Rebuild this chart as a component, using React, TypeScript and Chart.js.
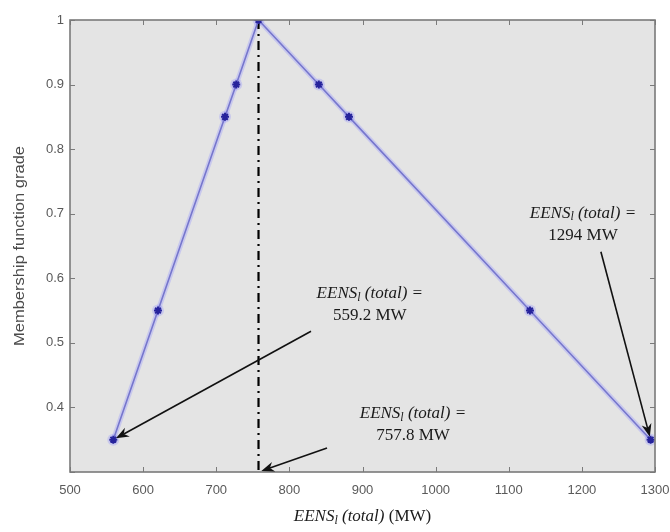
import React, { useEffect, useRef } from "react";
import { Chart, registerables } from "chart.js";

Chart.register(...registerables);

// Membership function of EENS_l(total): rising and falling branches
const eensValues = [559.2, 620.3, 712, 727.3, 757.8, 840.3, 881.5, 1129, 1294];
const gradeValues = [0.35, 0.55, 0.85, 0.9, 1, 0.9, 0.85, 0.55, 0.35];

// Peak of the membership function (dash-dot marker line)
const peakEens = 757.8;

// Axis ranges and tick steps
const xRange = [500, 1300];
const xStep = 100;
const yRange = [0.3, 1];
const yStep = 0.1;

// Callouts: label, label anchor (data units), arrow tail and head (data units)
const calloutLabels = ["559.2 MW", "757.8 MW", "1294 MW"];
const calloutTextAt = [
  [910, 0.576],
  [969, 0.39],
  [1201.5, 0.701],
];
const calloutTail = [
  [829.6, 0.518],
  [851.5, 0.337],
  [1226, 0.641],
];
const calloutHead = [
  [559.2, 0.35],
  [757.8, 0.3],
  [1294, 0.35],
];

const SERIF = "'Liberation Serif', 'Times New Roman', serif";
const SANS = "'Liberation Sans', Arial, sans-serif";

type Part = { text: string; font: string; dy: number };

function eensParts(size: number, suffix: string, tail?: string): Part[] {
  const parts: Part[] = [
    { text: "EENS", font: `italic ${size}px ${SERIF}`, dy: 0 },
    { text: "l", font: `italic ${Math.round(size * 0.72)}px ${SERIF}`, dy: size * 0.22 },
    { text: suffix, font: `italic ${size}px ${SERIF}`, dy: 0 },
  ];
  if (tail) parts.push({ text: tail, font: `${size}px ${SERIF}`, dy: 0 });
  return parts;
}

function drawParts(ctx: CanvasRenderingContext2D, parts: Part[], cx: number, y: number) {
  let total = 0;
  const widths = parts.map((p) => {
    ctx.font = p.font;
    const w = ctx.measureText(p.text).width;
    total += w;
    return w;
  });
  let x = cx - total / 2;
  ctx.textAlign = "left";
  ctx.textBaseline = "middle";
  parts.forEach((p, i) => {
    ctx.font = p.font;
    ctx.fillText(p.text, x, y + p.dy);
    x += widths[i];
  });
}

function drawArrow(ctx: CanvasRenderingContext2D, x0: number, y0: number, x1: number, y1: number) {
  const ang = Math.atan2(y1 - y0, x1 - x0);
  // Pull the tip back slightly from the marked point
  const tx = x1 - Math.cos(ang) * 3;
  const ty = y1 - Math.sin(ang) * 3;
  const len = 13;
  const half = 5;
  const back = 9;
  const bx = tx - Math.cos(ang) * len;
  const by = ty - Math.sin(ang) * len;
  const mx = tx - Math.cos(ang) * back;
  const my = ty - Math.sin(ang) * back;
  const nx = -Math.sin(ang);
  const ny = Math.cos(ang);
  ctx.strokeStyle = "#111";
  ctx.fillStyle = "#111";
  ctx.lineWidth = 1.6;
  ctx.beginPath();
  ctx.moveTo(x0, y0);
  ctx.lineTo(mx, my);
  ctx.stroke();
  ctx.beginPath();
  ctx.moveTo(tx, ty);
  ctx.lineTo(bx + nx * half, by + ny * half);
  ctx.lineTo(mx, my);
  ctx.lineTo(bx - nx * half, by - ny * half);
  ctx.closePath();
  ctx.fill();
}

const framePlugin = {
  id: "matlabFrame",
  beforeDatasetsDraw(chart: any) {
    const { ctx, chartArea: a } = chart;
    ctx.save();
    ctx.fillStyle = "#e4e4e4";
    ctx.fillRect(a.left, a.top, a.right - a.left, a.bottom - a.top);
    ctx.restore();
  },
  afterDatasetsDraw(chart: any) {
    const { ctx, chartArea: a, scales } = chart;
    ctx.save();
    ctx.strokeStyle = "#7a7a7a";
    ctx.lineWidth = 1;
    const tl = 5;
    scales.x.ticks.forEach((t: any) => {
      const px = Math.round(scales.x.getPixelForValue(t.value)) + 0.5;
      ctx.beginPath();
      ctx.moveTo(px, a.bottom);
      ctx.lineTo(px, a.bottom - tl);
      ctx.moveTo(px, a.top);
      ctx.lineTo(px, a.top + tl);
      ctx.stroke();
    });
    scales.y.ticks.forEach((t: any) => {
      const py = Math.round(scales.y.getPixelForValue(t.value)) + 0.5;
      ctx.beginPath();
      ctx.moveTo(a.left, py);
      ctx.lineTo(a.left + tl, py);
      ctx.moveTo(a.right, py);
      ctx.lineTo(a.right - tl, py);
      ctx.stroke();
    });
    ctx.lineWidth = 1.6;
    ctx.strokeRect(a.left, a.top, a.right - a.left, a.bottom - a.top);
    ctx.restore();
  },
  afterDraw(chart: any) {
    const { ctx, chartArea: a, scales } = chart;
    const sx = scales.x;
    const sy = scales.y;
    ctx.save();
    // Callouts
    calloutLabels.forEach((label, i) => {
      const cx = sx.getPixelForValue(calloutTextAt[i][0]);
      const cy = sy.getPixelForValue(calloutTextAt[i][1]);
      ctx.fillStyle = "#1a1a1a";
      drawParts(ctx, eensParts(17, " (total) ="), cx, cy);
      drawParts(ctx, [{ text: label, font: `17px ${SERIF}`, dy: 0 }], cx, cy + 22);
      drawArrow(
        ctx,
        sx.getPixelForValue(calloutTail[i][0]),
        sy.getPixelForValue(calloutTail[i][1]),
        sx.getPixelForValue(calloutHead[i][0]),
        sy.getPixelForValue(calloutHead[i][1])
      );
    });
    // Axis titles
    ctx.fillStyle = "#1a1a1a";
    drawParts(ctx, eensParts(17, " (total)", " (MW)"), (a.left + a.right) / 2, 517);
    const yTitle = "Membership function grade";
    ctx.translate(20, (a.top + a.bottom) / 2);
    ctx.rotate(-Math.PI / 2);
    ctx.font = `14px ${SANS}`;
    const natural = ctx.measureText(yTitle).width;
    ctx.scale(200 / natural, 1);
    ctx.fillStyle = "#4a4a4a";
    ctx.textAlign = "center";
    ctx.textBaseline = "middle";
    ctx.fillText(yTitle, 0, 0);
    ctx.restore();
  },
};

export default function App() {
  const canvasRef = useRef<HTMLCanvasElement | null>(null);

  useEffect(() => {
    if (!canvasRef.current) return;
    const points = eensValues.map((x, i) => ({ x, y: gradeValues[i] }));
    const chart = new Chart(canvasRef.current, {
      type: "line",
      data: {
        datasets: [
          {
            label: "membership",
            data: points,
            order: 0,
            borderColor: "rgb(118,118,205)",
            borderWidth: 1.6,
            pointStyle: "star",
            pointRadius: 4,
            pointBorderColor: "#26239c",
            pointBorderWidth: 2,
            pointBackgroundColor: "#26239c",
            tension: 0,
          },
          {
            label: "peak",
            data: [
              { x: peakEens, y: yRange[1] },
              { x: peakEens, y: yRange[0] },
            ],
            order: 1,
            borderColor: "#000",
            borderWidth: 2.2,
            borderDash: [9, 5, 2, 5],
            pointRadius: 0,
          },
          {
            label: "halo",
            data: points,
            order: 2,
            borderColor: "rgba(150,150,255,0.35)",
            borderWidth: 5,
            pointRadius: 6,
            pointBorderWidth: 0,
            pointBackgroundColor: "rgba(140,140,255,0.3)",
            tension: 0,
          },
        ],
      },
      options: {
        responsive: false,
        maintainAspectRatio: false,
        devicePixelRatio: 1,
        animation: false,
        layout: { padding: { top: 20, right: 15, left: 0, bottom: 0 } },
        plugins: {
          legend: { display: false },
          tooltip: { enabled: false },
        },
        scales: {
          x: {
            type: "linear",
            min: xRange[0],
            max: xRange[1],
            afterFit: (s: any) => {
              s.height = 60;
              s.paddingLeft = 0;
              s.paddingRight = 0;
            },
            grid: { display: false, drawTicks: false },
            border: { display: false },
            ticks: {
              stepSize: xStep,
              padding: 11,
              color: "#5a5a5a",
              font: { family: SANS, size: 13 },
              maxRotation: 0,
              callback: (v: any) => String(v),
            },
          },
          y: {
            type: "linear",
            min: yRange[0],
            max: yRange[1],
            afterFit: (s: any) => {
              s.width = 70;
              s.paddingTop = 0;
              s.paddingBottom = 0;
            },
            grid: { display: false, drawTicks: false },
            border: { display: false },
            ticks: {
              stepSize: yStep,
              padding: 6,
              color: "#5a5a5a",
              font: { family: SANS, size: 13 },
              callback: (v: any) => {
                const r = Math.round(Number(v) * 10) / 10;
                return r < 0.35 ? "" : String(r);
              },
            },
          },
        },
      },
      plugins: [framePlugin],
    });
    return () => chart.destroy();
  }, []);

  return (
    <div style={{ position: "absolute", left: 0, top: 0, width: 670, height: 532, background: "#fff" }}>
      <canvas ref={canvasRef} width={670} height={532} style={{ display: "block" }} />
    </div>
  );
}
